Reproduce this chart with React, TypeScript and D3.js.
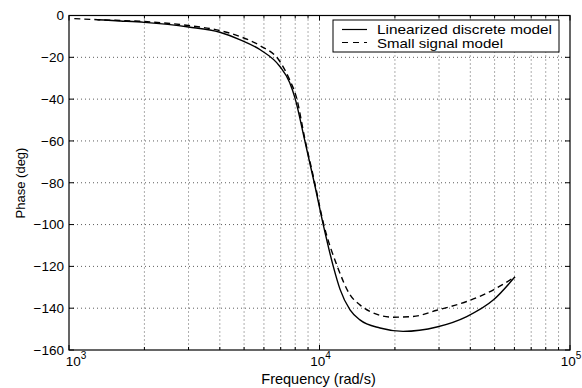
import React from "react";
import * as d3 from "d3";

const solidFreq = [1.3e3, 1.6e3, 2.0e3, 3.0e3, 4.0e3, 4.8e3, 5.8e3, 6.95e3, 7.6e3, 7.98e3, 8.74e3, 9.53e3, 1.035e4, 1.135e4, 1.208e4, 1.324e4, 1.45e4, 1.745e4, 2.155e4, 2.94e4, 3.87e4, 4.95e4, 6.03e4];
const solidPhase = [-2, -2.6, -3.3, -5.5, -8, -11.5, -16.4, -24.4, -32, -39.4, -60, -80, -100, -120, -131, -140.8, -145.6, -149.5, -151.1, -149, -144, -136, -125];

const dashFreq = [1.05e3, 1.3e3, 2.0e3, 3.0e3, 4.0e3, 4.8e3, 5.8e3, 6.95e3, 7.6e3, 8.1e3, 8.74e3, 9.53e3, 1.04e4, 1.178e4, 1.324e4, 1.45e4, 1.591e4, 1.96e4, 2.36e4, 2.94e4, 3.87e4, 4.95e4, 6.03e4];
const dashPhase = [-1.5, -2, -2.9, -4.8, -7.2, -10, -14.5, -22, -30.8, -39.4, -59, -79, -100, -120, -133.6, -138.4, -141.6, -144.3, -144, -141, -136.8, -131.2, -125];

const yTicks = [0, -20, -40, -60, -80, -100, -120, -140, -160];
const xMajor = [1e3, 1e4, 1e5];
const xMajorExp = ["3", "4", "5"];
const legendLabels = ["Linearized discrete model", "Small signal model"];

const W = 582, H = 388;
const L = 69, R = 570, T = 15.5, B = 350;

export default function App() {
  const x = d3.scaleLog().domain([1e3, 1e5]).range([L, R]);
  const y = d3.scaleLinear().domain([-160, 0]).range([B, T]);
  const minor: number[] = [];
  for (const dec of [1e3, 1e4]) for (let k = 2; k <= 9; k++) minor.push(dec * k);
  const line = d3.line<[number, number]>().x(d => x(d[0])).y(d => y(d[1])).curve(d3.curveMonotoneX);
  const solid = line(solidFreq.map((f, i) => [f, solidPhase[i]] as [number, number]));
  const dashed = line(dashFreq.map((f, i) => [f, dashPhase[i]] as [number, number]));
  const font = "'Liberation Sans', Arial, Helvetica, sans-serif";
  const gridStyle = { stroke: "#333", strokeWidth: 0.8, strokeDasharray: "1,3" };
  return (
    <svg width={W} height={H} style={{ position: "absolute", left: 0, top: 0, background: "#fff" }} fontFamily={font}>
      <rect x={0} y={0} width={W} height={H} fill="#fff" />
      {/* grid */}
      {[...minor, 1e4].map((f, i) => (
        <line key={"gx" + i} x1={x(f)} x2={x(f)} y1={T} y2={B} {...gridStyle} />
      ))}
      {yTicks.filter(t => t !== 0 && t !== -160).map((t, i) => (
        <line key={"gy" + i} x1={L} x2={R} y1={y(t)} y2={y(t)} {...gridStyle} />
      ))}
      {/* curves */}
      <path d={solid ?? ""} fill="none" stroke="#000" strokeWidth={1.4} />
      <path d={dashed ?? ""} fill="none" stroke="#000" strokeWidth={1.4} strokeDasharray="6,4" />
      {/* axes box */}
      <rect x={L} y={T} width={R - L} height={B - T} fill="none" stroke="#000" strokeWidth={1.2} />
      {/* y ticks */}
      {yTicks.map((t, i) => (
        <g key={"yt" + i}>
          <line x1={L} x2={L + 5} y1={y(t)} y2={y(t)} stroke="#000" strokeWidth={1} />
          <line x1={R} x2={R - 5} y1={y(t)} y2={y(t)} stroke="#000" strokeWidth={1} />
          <text x={64} y={y(t)} dy="0.36em" textAnchor="end" fontSize={13.5}>
            {t === 0 ? "0" : "\u2212" + Math.abs(t)}
          </text>
        </g>
      ))}
      {/* x ticks */}
      {minor.map((f, i) => (
        <g key={"xm" + i}>
          <line x1={x(f)} x2={x(f)} y1={B} y2={B - 3} stroke="#000" strokeWidth={1} />
          <line x1={x(f)} x2={x(f)} y1={T} y2={T + 3} stroke="#000" strokeWidth={1} />
        </g>
      ))}
      {xMajor.map((f, i) => (
        <g key={"xM" + i}>
          <line x1={x(f)} x2={x(f)} y1={B} y2={B - 5} stroke="#000" strokeWidth={1} />
          <line x1={x(f)} x2={x(f)} y1={T} y2={T + 5} stroke="#000" strokeWidth={1} />
          <text x={i === 0 ? x(f) + 7 : x(f) + 1} y={366} textAnchor="middle" fontSize={13.5}>
            10<tspan dy={-7} fontSize={10}>{xMajorExp[i]}</tspan>
          </text>
        </g>
      ))}
      <text x={318.5} y={383.5} textAnchor="middle" fontSize={14.5}>Frequency (rad/s)</text>
      <text transform={`translate(25,183) rotate(-90)`} textAnchor="middle" fontSize={13}>Phase (deg)</text>
      {/* legend */}
      <rect x={333} y={20} width={226} height={32} fill="#fff" stroke="#000" strokeWidth={1} />
      <line x1={342} x2={367} y1={29.5} y2={29.5} stroke="#000" strokeWidth={1.2} />
      <line x1={342} x2={367} y1={42.5} y2={42.5} stroke="#000" strokeWidth={1.2} strokeDasharray="6,5" />
      <text x={377} y={34} fontSize={13} textLength={175} lengthAdjust="spacingAndGlyphs">{legendLabels[0]}</text>
      <text x={377} y={48} fontSize={13} textLength={126} lengthAdjust="spacingAndGlyphs">{legendLabels[1]}</text>
    </svg>
  );
}
